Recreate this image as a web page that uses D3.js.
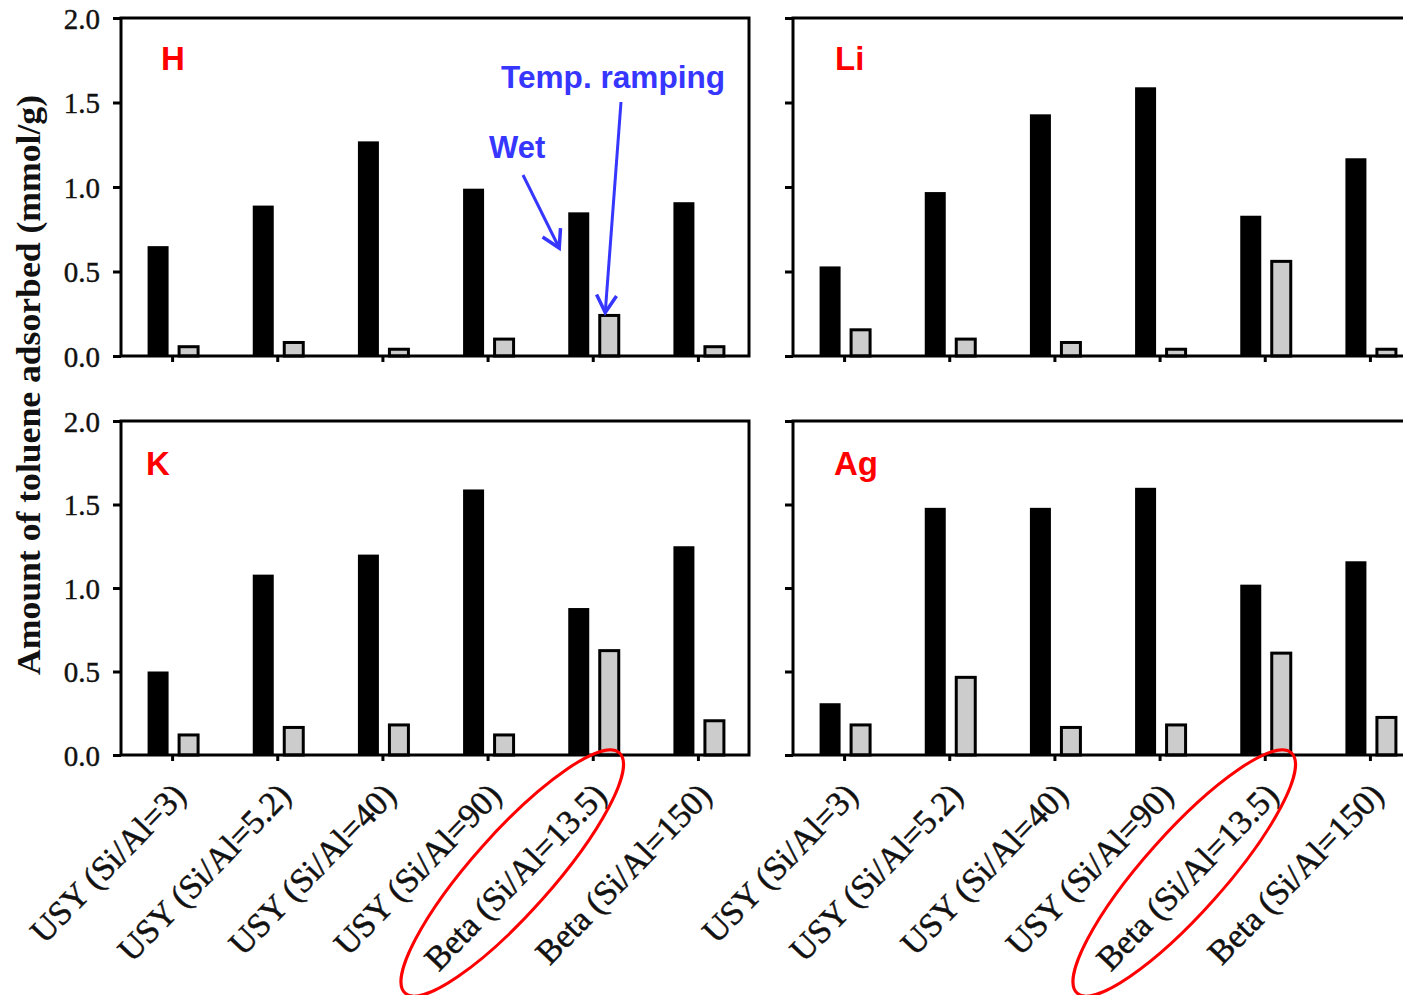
<!DOCTYPE html>
<html>
<head>
<meta charset="utf-8">
<script src="https://cdn.jsdelivr.net/npm/d3@7"></script>
<style>
  html, body { margin: 0; padding: 0; background: #fff; }
  svg { display: block; }
</style>
</head>
<body>
<svg id="chart" width="1403" height="995"></svg>
<script>
// Zeolite samples on the x axis
const categories = [
  "USY (Si/Al=3)", "USY (Si/Al=5.2)", "USY (Si/Al=40)",
  "USY (Si/Al=90)", "Beta (Si/Al=13.5)", "Beta (Si/Al=150)"
];

// Toluene uptake (mmol/g): wet condition (black) and temperature ramping (grey)
const wetH  = [0.65, 0.89, 1.27, 0.99, 0.85, 0.91];
const rampH = [0.055, 0.08, 0.04, 0.10, 0.24, 0.055];

const wetLi  = [0.53, 0.97, 1.43, 1.59, 0.83, 1.17];
const rampLi = [0.155, 0.10, 0.08, 0.04, 0.56, 0.04];

const wetK  = [0.50, 1.08, 1.20, 1.59, 0.88, 1.25];
const rampK = [0.12, 0.165, 0.18, 0.12, 0.625, 0.205];

const wetAg  = [0.31, 1.48, 1.48, 1.60, 1.02, 1.16];
const rampAg = [0.18, 0.465, 0.165, 0.18, 0.61, 0.225];

const yTicks = [0, 0.5, 1.0, 1.5, 2.0];
const yTitle = "Amount of toluene adsorbed (mmol/g)";

const panels = [
  { name: "H",  wet: wetH,  ramp: rampH,  col: 0, row: 0 },
  { name: "Li", wet: wetLi, ramp: rampLi, col: 1, row: 0 },
  { name: "K",  wet: wetK,  ramp: rampK,  col: 0, row: 1 },
  { name: "Ag", wet: wetAg, ramp: rampAg, col: 1, row: 1 }
];

// ---- layout ----
const cols = [
  { axis: 121, range: [120, 751], right: 749 },
  { axis: 793, range: [792, 1423], right: 1421 }
];
const rows = [
  { top: 18, bottom: 356 },
  { top: 421, bottom: 755 }
];
const nameOffset = { H: [161, 70], Li: [835, 70], K: [146, 475], Ag: [834, 475] };

const serif = "'Liberation Serif', 'Times New Roman', serif";
const sans = "'Liberation Sans', Arial, sans-serif";
const blue = "#3636ff";

const svg = d3.select("#chart");

panels.forEach(p => {
  const c = cols[p.col], r = rows[p.row];
  const x = d3.scaleBand().domain(categories).range(c.range);
  const y = d3.scaleLinear().domain([0, 2]).range([r.bottom, r.top]);
  const cx = d => x(d) + x.bandwidth() / 2;
  const g = svg.append("g").attr("class", "panel-" + p.name);

  // wet bars
  g.selectAll("rect.wet").data(categories.map((d, i) => ({ cat: d, v: p.wet[i] })))
    .join("rect").attr("class", "wet")
    .attr("x", d => cx(d.cat) - 25).attr("width", 21)
    .attr("y", d => y(d.v)).attr("height", d => y(0) - y(d.v))
    .attr("fill", "#000");

  // temperature-ramping bars
  g.selectAll("rect.ramp").data(categories.map((d, i) => ({ cat: d, v: p.ramp[i] })))
    .join("rect").attr("class", "ramp")
    .attr("x", d => cx(d.cat) + 6.5).attr("width", 19)
    .attr("y", d => y(d.v)).attr("height", d => y(0) - y(d.v))
    .attr("fill", "#cccccc").attr("stroke", "#000").attr("stroke-width", 3);

  // frame
  g.append("rect")
    .attr("x", c.axis).attr("y", r.top)
    .attr("width", c.right - c.axis).attr("height", r.bottom - r.top)
    .attr("fill", "none").attr("stroke", "#000").attr("stroke-width", 3);

  // y axis
  const ya = g.append("g").attr("transform", `translate(${c.axis},0)`)
    .call(d3.axisLeft(y).tickValues(yTicks).tickSize(8).tickSizeOuter(0)
      .tickFormat(p.col === 0 ? d3.format(".1f") : () => ""));
  ya.select(".domain").remove();
  ya.selectAll(".tick line").attr("stroke-width", 3);
  ya.selectAll(".tick text")
    .attr("x", -21).attr("dy", "0.36em")
    .attr("font-family", serif).attr("font-size", 29).attr("fill", "#111")
    .attr("stroke", "#111").attr("stroke-width", 0.4);

  // x axis
  const xa = g.append("g").attr("transform", `translate(0,${r.bottom})`)
    .call(d3.axisBottom(x).tickSize(6).tickSizeOuter(0)
      .tickFormat(p.row === 1 ? d => d : () => ""));
  xa.select(".domain").remove();
  xa.selectAll(".tick line").attr("stroke-width", 3);
  xa.selectAll(".tick text")
    .attr("x", 0).attr("y", 0).attr("dy", 0)
    .attr("text-anchor", "end")
    .attr("transform", "translate(15,42) rotate(-46)")
    .attr("font-family", serif).attr("font-size", 34).attr("fill", "#111")
    .attr("stroke", "#111").attr("stroke-width", 0.5);

  // ion label
  g.append("text")
    .attr("x", nameOffset[p.name][0]).attr("y", nameOffset[p.name][1])
    .attr("font-family", sans).attr("font-weight", "bold").attr("font-size", 33)
    .attr("fill", "#ff0000").text(p.name);

  // highlight ellipse around the Beta (Si/Al=13.5) label
  if (p.row === 1) {
    const ex = cx("Beta (Si/Al=13.5)") - 81;
    g.append("ellipse")
      .attr("transform", `translate(${ex},873) rotate(-48.3)`)
      .attr("rx", 161).attr("ry", 40)
      .attr("fill", "none").attr("stroke", "#ff0000").attr("stroke-width", 3);
  }

  // annotations on the H panel
  if (p.name === "H") {
    const k = "Beta (Si/Al=13.5)";
    g.append("text").attr("x", 489).attr("y", 158)
      .attr("font-family", sans).attr("font-weight", "bold").attr("font-size", 31)
      .attr("fill", blue).text("Wet");
    g.append("text").attr("x", 501).attr("y", 88)
      .attr("font-family", sans).attr("font-weight", "bold").attr("font-size", 31.6)
      .attr("fill", blue).text("Temp. ramping");

    const arrow = (x1, y1, x2, y2) => {
      const a = Math.atan2(y1 - y2, x1 - x2), L = 20, s = Math.PI / 6;
      g.append("line").attr("x1", x1).attr("y1", y1).attr("x2", x2).attr("y2", y2)
        .attr("stroke", blue).attr("stroke-width", 3);
      g.append("path")
        .attr("d", `M${x2 + L * Math.cos(a + s)},${y2 + L * Math.sin(a + s)}L${x2},${y2}L${x2 + L * Math.cos(a - s)},${y2 + L * Math.sin(a - s)}`)
        .attr("fill", "none").attr("stroke", blue).attr("stroke-width", 3.5);
    };
    arrow(523, 175, cx(k) - 34, 248);
    arrow(621, 102, cx(k) + 12, y(rampH[4]) - 3);
  }
});

// shared y-axis title
svg.append("text")
  .attr("transform", "translate(40,385) rotate(-90)")
  .attr("text-anchor", "middle")
  .attr("font-family", serif).attr("font-weight", "bold").attr("font-size", 34)
  .attr("textLength", 580).attr("lengthAdjust", "spacingAndGlyphs")
  .attr("fill", "#111").text(yTitle);
</script>
</body>
</html>
